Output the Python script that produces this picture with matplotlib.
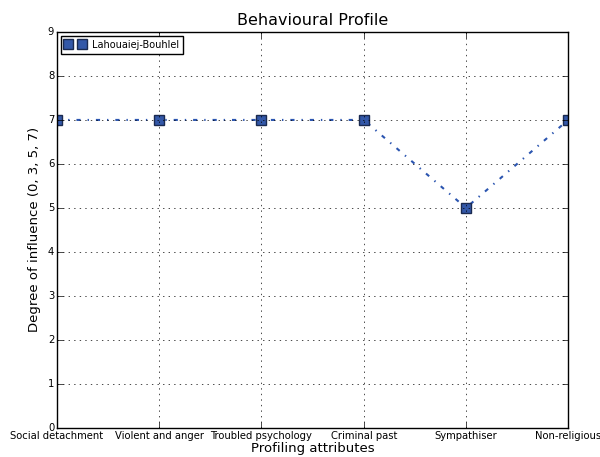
import matplotlib
matplotlib.use('Agg')
import matplotlib.pyplot as plt

attributes = ['Social detachment', 'Violent and anger', 'Troubled psychology',
              'Criminal past', 'Sympathiser', 'Non-religious']
influence = [7, 7, 7, 7, 5, 7]
person = 'Lahouaiej-Bouhlel'

plt.style.use('classic')
fig = plt.figure(figsize=(6.0, 4.57), dpi=100)
ax = fig.add_axes([0.095, 0.064, 0.852, 0.866])

x = list(range(len(attributes)))
ax.plot(x, influence, linestyle='-.', color='#2b55b0', linewidth=1.5,
        marker='s', markersize=7, markerfacecolor='#3358a8',
        markeredgecolor='#1a2a50', markeredgewidth=1.0, label=person)

ax.set_xlim(0, len(attributes) - 1)
ax.set_ylim(0, 9)
ax.set_xticks(x)
ax.set_xticklabels(attributes, fontsize=7.2)
ax.tick_params(axis='both', labelsize=7.2, pad=2)
ax.grid(True, color='black', linestyle=':')
ax.set_title('Behavioural Profile', fontsize=11.5)
ax.set_xlabel('Profiling attributes', fontsize=9.5, labelpad=1)
ax.set_ylabel('Degree of influence (0, 3, 5, 7)', fontsize=9.5)
leg = ax.legend(loc='upper left', fontsize=7, numpoints=2, markerscale=0.95,
                handlelength=2.1, handletextpad=0.7, borderaxespad=0.4)
leg.get_lines()[0].set_linestyle('none')

fig.savefig('out.png', dpi=100)
